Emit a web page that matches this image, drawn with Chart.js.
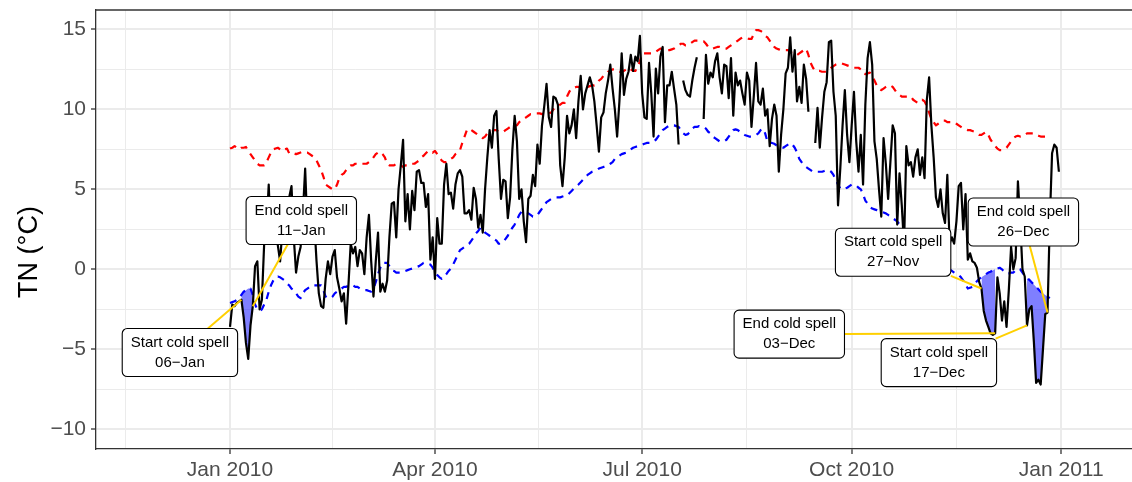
<!DOCTYPE html>
<html>
<head>
<meta charset="utf-8">
<script src="https://cdn.jsdelivr.net/npm/chart.js@4.4.1/dist/chart.umd.min.js"></script>
<style>
  html, body { margin: 0; padding: 0; background: #fff; }
  #chart { display: block; }
</style>
</head>
<body>
<canvas id="chart" width="1132" height="482"></canvas>
<script>
// daily minimum temperature 2010, index 0 = 1 Jan (null = missing)
const tn = [
  -3.6, -2.2, -2.3, -2.1, -2.0, -1.9, -3.0, -4.6, -5.6, -3.5,
  -2.3, 0.2, 0.5, -2.5, -1.9, 1.6, 2.5, 5.3, 1.6, 3.5,
  2.5, 1.5, 0.5, 2.5, 4.0, 3.0, 4.5, 5.2, 2.0, -0.2,
  0.8, 1.4, 3.5, 6.3, 2.5, 3.5, 2.0, 3.0, 0.5, -1.5,
  -2.3, -2.4, -0.6, 0.5, -0.3, 0.8, 1.2, -0.5, -1.2, -2.0,
  -1.5, -3.4, -1.0, 1.6, 1.0, 1.4, 0.2, 1.2, 1.0, -0.3,
  2.0, 3.4, 0.5, -1.7, 0.5, 2.3, -1.4, -0.9, -1.4, -0.7,
  2.0, 4.1, 4.2, 2.0, 5.0, 6.5, 8.1, 3.0, 4.7, 2.5,
  4.9, 3.7, 6.1, 6.2, 5.4, 5.4, 3.9, 4.7, 0.6, 2.0,
  -0.6, 3.2, 1.6, 1.6, 5.3, 6.6, 4.7, 4.8, 3.8, 5.3,
  6.0, 6.2, 5.8, 3.5, 3.5, 3.7, 3.1, 5.1, 4.4, 2.6,
  3.4, 2.3, 5.0, 7.0, 8.7, 7.6, 9.6, 9.9, 6.9, 4.4,
  5.6, 5.5, 3.2, 4.5, 7.5, 9.6, 8.0, 4.4, 5.0, 3.0,
  1.7, 4.4, 4.6, 5.9, 5.2, 7.8, 6.6, 9.0, 10.2, 11.6,
  9.5, 8.9, 10.8, 10.7, 10.3, 6.5, 5.2, 7.0, 9.6, 8.5,
  9.0, 10.0, 8.2, 10.5, 12.1, 10.0, 11.0, 11.5, 12.0, 11.5,
  10.5, 9.0, 7.35, 9.5, 9.8, 11.0, 11.8, 12.8, 11.3, 10.0,
  8.3, 10.5, 13.5, 10.9, 11.9, 12.35, 13.4, 12.4, 13.3, 13.0,
  14.6, 11.0, 9.5, 9.4, 12.9, 11.0, 8.3, 12.55, 11.0, 13.3,
  13.9, 9.2, 11.5, 11.5, 12.35, 11.3, 10.3, 7.8, null, 11.8,
  11.2, 10.9, 10.8, 11.8, 12.6, 13.25, null, null, 9.4, 13.4,
  11.6, 12.3, 12.0, 13.0, 13.5, 12.0, 11.0, 12.8, 12.7, 10.7,
  13.2, 9.6, 12.3, 11.5, 11.8, 11.0, 10.3, 12.3, 11.8, 8.9,
  10.8, 12.9, 10.5, 10.3, 11.3, 9.6, 10.0, 7.7, 9.4, 10.3,
  9.6, 6.1, 8.4, 10.0, 12.25, 12.6, 14.5, 12.35, 13.7, 10.5,
  11.4, 10.4, 12.8, 11.9, 9.85, null, null, 7.9, 10.1, 7.6,
  9.5, 11.1, 11.7, 14.2, 14.3, 11.1, 9.6, 4.0, 6.3, 9.0,
  11.2, 8.4, 6.7, 9.0, 11.1, 8.0, 6.1, 8.4, 5.3, 10.3,
  13.2, 14.2, 12.8, 8.0, 6.9, 5.0, 3.3, 8.2, 6.6, 4.4,
  6.7, 9.0, 8.5, 2.8, 6.0, 4.0, 1.5, 7.7, 6.5, 6.7,
  5.8, 7.0, 7.5, 5.9, 7.0, 5.7, 10.6, 12.0, 9.0, 7.0,
  4.5, 3.9, 5.0, 3.5, 2.9, 5.9, 1.6, 2.0, 1.6, 3.0,
  5.2, 5.4, 2.5, 4.7, 0.6, 1.0, 0.5, 0.4, 0.1, -0.8,
  -1.2, -2.6, -3.2, -3.6, -4.0, -4.1, -4.0, -0.5, -1.5, -3.2,
  -2.0, -3.6, -1.3, 1.4, 0.0, 0.7, 5.5, 3.0, 0.0, -0.45,
  -3.5, -2.5, -2.3, -4.5, -7.1, -6.9, -7.2, -5.0, -2.8, -2.7,
  3.0, 7.25, 7.8, 7.6, 6.1
];

// lower threshold (blue dashed)
const tnLow = [
  -2.1, -2.05, -2.0, -1.9, -1.8, -1.6, -1.4, -1.3, -1.2, -1.2,
  -1.6, -2.2, -2.5, -2.6, -2.5, -2.2, -1.9, -1.4, -1.0, -0.7,
  -0.5, -0.45, -0.5, -0.6, -0.7, -0.9, -1.0, -1.2, -1.3, -1.5,
  -1.7, -1.8, -1.5, -1.3, -1.2, -1.1, -1.1, -1.0, -1.0, -1.0,
  -1.0, -1.3, -1.7, -1.8, -1.8, -1.7, -1.5, -1.4, -1.3, -1.2,
  -1.1, -1.1, -1.0, -1.0, -1.0, -1.1, -1.1, -1.2, -1.25, -1.3,
  -1.3, -1.35, -1.4, -1.2, -0.8, -0.3, 0.1, 0.4, 0.4, 0.4,
  0.2, -0.05, -0.1, -0.2, -0.2, -0.2, -0.15, -0.1, -0.05, 0.0,
  0.05, 0.1, 0.15, 0.2, 0.3, 0.4, 0.4, 0.35, 0.3, 0.1,
  -0.2, -0.35, -0.5, -0.6, -0.5, -0.3, -0.1, 0.05, 0.3, 0.6,
  0.9, 1.2, 1.3, 1.4, 1.5, 1.6, 1.8, 2.0, 2.25, 2.4,
  2.6, 2.5, 2.3, 2.2, 2.1, 2.0, 1.9, 1.8, 1.6, 1.6,
  1.7, 1.9, 2.1, 2.4, 2.6, 2.8, 3.1, 3.4, 3.6, 3.6,
  3.55, 3.5, 3.4, 3.3, 3.3, 3.4, 3.6, 3.8, 4.0, 4.2,
  4.3, 4.4, 4.45, 4.5, 4.5, 4.5, 4.55, 4.6, 4.6, 4.75,
  4.9, 5.05, 5.2, 5.3, 5.45, 5.6, 5.75, 5.9, 6.0, 6.1,
  6.15, 6.2, 6.3, 6.35, 6.4, 6.45, 6.5, 6.6, 6.7, 6.9,
  7.0, 7.1, 7.2, 7.25, 7.3, 7.4, 7.5, 7.6, 7.65, 7.7,
  7.75, 7.8, 7.85, 7.9, 7.9, 7.9, 8.0, 8.1, 8.3, 8.5,
  8.7, 8.8, 8.9, 9.0, 9.0, 9.0, 8.95, 8.9, 8.7, 8.5,
  8.4, 8.45, 8.6, 8.8, 8.9, 8.9, 8.95, 8.9, 8.9, 8.8,
  8.6, 8.5, 8.3, 8.2, 8.1, 8.0, 8.0, 8.0, 8.1, 8.3,
  8.5, 8.7, 8.75, 8.7, 8.6, 8.5, 8.4, 8.35, 8.3, 8.3,
  8.35, 8.4, 8.5, 8.7, 8.8, 8.5, 8.0, 7.9, 7.9, 7.85,
  7.75, 7.7, 7.65, 7.6, 7.7, 7.8, 7.9, 7.8, 7.6, 7.3,
  6.9, 6.7, 6.5, 6.4, 6.3, 6.2, 6.1, 6.1, 6.1, 6.1,
  6.1, 6.15, 6.2, 6.2, 6.1, 5.9, 5.6, 5.3, 5.05, 5.0,
  5.05, 5.1, 5.2, 5.3, 5.3, 5.25, 5.1, 5.0, 4.7, 4.3,
  4.1, 3.9, 3.8, 3.75, 3.7, 3.65, 3.6, 3.55, 3.5, 3.4,
  3.3, 3.2, 3.1, 3.0, 2.8, 2.4, 2.1, 1.8, 1.6, 1.5,
  1.45, 1.4, 1.4, 1.35, 1.3, 1.3, 1.2, 1.1, 1.0, 0.8,
  0.7, 0.6, 0.45, 0.3, 0.2, 0.1, 0.0, -0.1, -0.2, -0.3,
  -0.35, -0.5, -0.7, -0.95, -1.2, -1.15, -1.1, -0.9, -0.75, -0.6,
  -0.5, -0.4, -0.3, -0.2, -0.15, -0.05, 0.0, 0.05, 0.1, 0.0,
  -0.15, -0.25, -0.25, -0.2, -0.2, -0.05, 0.05, 0.0, -0.2, -0.4,
  -0.55, -0.65, -0.8, -0.95, -1.1, -1.25, -1.4, -1.5, -1.6, -1.7,
  -1.8
];

// upper threshold (red dashed)
const tnHigh = [
  7.55, 7.6, 7.7, 7.6, 7.5, 7.6, 7.6, 7.65, 7.4, 7.2,
  7.0, 6.8, 6.6, 6.5, 6.5, 6.5, 6.7, 7.0, 7.3, 7.5,
  7.55, 7.6, 7.5, 7.4, 7.5, 7.55, 7.25, 7.2, 7.25, 7.2,
  7.25, 7.3, 7.35, 7.3, 7.3, 7.2, 7.1, 7.0, 6.8, 6.5,
  6.2, 5.8, 5.3, 5.2, 5.1, 5.0, 5.0, 5.3, 5.7, 5.9,
  6.0, 6.2, 6.4, 6.5, 6.5, 6.6, 6.6, 6.55, 6.6, 6.6,
  6.6, 6.7, 6.8, 7.0, 7.2, 7.3, 7.35, 7.2, 7.0, 6.6,
  6.5, 6.5, 6.5, 6.6, 6.5, 6.5, 6.4, 6.5, 6.5, 6.6,
  6.6, 6.6, 6.7, 6.8, 7.0, 7.1, 7.25, 7.4, 7.4, 7.3,
  7.4, 7.2, 7.0, 6.8, 6.7, 6.7, 6.75, 6.9, 7.0, 7.2,
  7.3, 7.45, 7.9, 8.3, 8.7, 8.8, 8.7, 8.6, 8.5, 8.4,
  8.3, 8.2, 8.3, 8.5, 8.6, 8.6, 8.7, 8.7, 8.6, 8.6,
  8.6, 8.7, 8.8, 8.9, 8.9, 9.0, 9.0, 9.2, 9.3, 9.4,
  9.5, 9.6, 9.7, 9.7, 9.75, 9.75, 9.75, 9.7, 9.75, 9.8,
  9.75, 9.8, 10.0, 10.1, 10.2, 10.3, 10.4, 10.4, 10.8, 11.1,
  11.3, 11.35, 11.4, 11.4, 11.35, 11.35, 11.4, 11.4, 11.45, 11.5,
  11.5, 11.6, 11.8, 11.9, 12.1, 12.2, 12.35, 12.4, 12.5, 12.5,
  12.4, 12.35, 12.35, 12.4, 12.5, 12.6, 12.5, 12.4, 12.4, 12.7,
  13.0, 13.5, 13.5, 13.5, 13.5, 13.5, 13.6, 13.6, 13.7, 13.8,
  13.8, 13.75, 13.7, 13.7, 13.75, 13.8, 13.9, 14.0, 14.1, 14.1,
  14.0, 14.0, 14.1, 14.2, 14.3, 14.3, 14.3, 14.25, 14.25, 14.1,
  13.9, 13.8, 13.8, 13.85, 13.9, 13.9, 13.85, 13.8, 13.8, 13.9,
  14.0, 14.1, 14.2, 14.3, 14.4, 14.5, 14.5, 14.45, 14.4, 14.4,
  14.7, 14.95, 14.95, 14.9, 14.8, 14.6, 14.5, 14.3, 14.1, 13.9,
  13.8, 13.75, 13.7, 13.7, 13.7, 13.7, 13.6, 13.5, 13.4, 13.4,
  13.5, 13.6, 13.7, 13.8, 13.4, 12.9, 12.6, 12.4, 12.4, 12.4,
  12.35, 12.35, 12.35, 12.5, 12.6, 12.7, 12.8, 12.85, 12.9, 12.85,
  12.8, 12.75, 12.7, 12.65, 12.6, 12.6, 12.6, 12.5, 12.25, 12.2,
  12.25, 12.3, 12.1, 11.8, 11.5, 11.3, 11.2, 11.3, 11.4, 11.5,
  11.5, 11.4, 11.2, 11.0, 10.9, 10.8, 10.8, 10.8, 10.8, 10.8,
  10.6, 10.5, 10.4, 10.5, 10.6, 10.5, 10.2, 9.8, 9.4, 9.2,
  9.0, 9.1, 9.2, 9.3, 9.3, 9.2, 9.2, 9.2, 9.2, 9.1,
  9.0, 8.9, 8.8, 8.75, 8.7, 8.7, 8.65, 8.6, 8.5, 8.4,
  8.4, 8.5, 8.6, 8.4, 8.1, 7.9, 7.7, 7.55, 7.45, 7.45,
  7.5, 7.6, 7.8, 8.0, 8.2, 8.3, 8.35, 8.3, 8.3, 8.4,
  8.5, 8.5, 8.5, 8.5, 8.4, 8.35, 8.3, 8.3, 8.3, 8.25,
  8.2
];

// cold spells, [first day, last day]
const coldSpells = [[5, 10], [330, 336], [350, 359]];

const xTickDays = [0, 90, 181, 273, 365];
const xTickLabels = ['Jan 2010', 'Apr 2010', 'Jul 2010', 'Oct 2010', 'Jan 2011'];
const xMinorDays = [-46, 45, 135.5, 227, 319];
const yTicks = [-10, -5, 0, 5, 10, 15];
const yMinor = [-7.5, -2.5, 2.5, 7.5, 12.5];
const yTitle = 'TN (°C)';

// where the repelled label boxes sit (day, value), start/end for each spell
const labelSpots = [[-22, -5.2], [31.3, 3.05], [291.2, 1.07], [245.6, -4.05], [311.3, -5.83], [348.4, 2.96]];

const FONT = '"Liberation Sans", Arial, Helvetica, sans-serif';
const months = ['Jan', 'Feb', 'Mar', 'Apr', 'May', 'Jun', 'Jul', 'Aug', 'Sep', 'Oct', 'Nov', 'Dec'];

function dayText(d) {
  const dt = new Date(Date.UTC(2010, 0, 1 + d));
  return String(dt.getUTCDate()).padStart(2, '0') + '\u2212' + months[dt.getUTCMonth()];
}

const inSpell = i => coldSpells.some(([a, b]) => i >= a && i <= b);
const pts = arr => arr.map((v, i) => ({ x: i, y: v }));

const spellLabels = [];
coldSpells.forEach(([a, b]) => {
  spellLabels.push({ lines: ['Start cold spell', dayText(a)], day: a });
  spellLabels.push({ lines: ['End cold spell', dayText(b)], day: b });
});

// ggrepel-like boxes with a segment to the marked day
const labelPlugin = {
  id: 'spellLabels',
  afterDatasetsDraw(chart) {
    const { ctx, scales: { x, y } } = chart;
    ctx.save();
    ctx.font = '15px ' + FONT;
    const boxes = spellLabels.map((l, i) => {
      const w = Math.max(...l.lines.map(s => ctx.measureText(s).width)) + 17;
      const h = 48;
      const cx = x.getPixelForValue(labelSpots[i][0]);
      const cy = y.getPixelForValue(labelSpots[i][1]);
      const px = x.getPixelForValue(l.day);
      const py = y.getPixelForValue(tn[l.day]);
      return { l, w, h, cx, cy, px, py };
    });

    ctx.strokeStyle = '#FFD000';
    ctx.lineWidth = 2;
    boxes.forEach(b => {
      const dx = b.px - b.cx, dy = b.py - b.cy;
      const t = Math.min(dx ? (b.w / 2) / Math.abs(dx) : Infinity, dy ? (b.h / 2) / Math.abs(dy) : Infinity);
      if (t >= 1) return;
      ctx.beginPath();
      ctx.moveTo(b.cx + dx * t, b.cy + dy * t);
      ctx.lineTo(b.px, b.py);
      ctx.stroke();
    });

    boxes.forEach(b => {
      ctx.beginPath();
      ctx.roundRect(b.cx - b.w / 2, b.cy - b.h / 2, b.w, b.h, 5);
      ctx.fillStyle = '#fff';
      ctx.fill();
      ctx.strokeStyle = '#000';
      ctx.lineWidth = 1.1;
      ctx.stroke();
      ctx.fillStyle = '#000';
      ctx.textAlign = 'center';
      ctx.textBaseline = 'middle';
      ctx.fillText(b.l.lines[0], b.cx, b.cy - 10);
      ctx.fillText(b.l.lines[1], b.cx, b.cy + 10);
    });
    ctx.restore();
  }
};

// top edge of the panel border and the y axis title
const frame = {
  id: 'frame',
  afterDraw(chart) {
    const { ctx, chartArea: a } = chart;
    ctx.save();
    ctx.strokeStyle = '#333';
    ctx.lineWidth = 1.3;
    ctx.beginPath();
    ctx.moveTo(a.left, a.top);
    ctx.lineTo(a.right, a.top);
    ctx.stroke();

    ctx.translate(30, 252);
    ctx.rotate(-Math.PI / 2);
    ctx.font = '27px ' + FONT;
    ctx.fillStyle = '#000';
    ctx.textAlign = 'center';
    ctx.textBaseline = 'middle';
    ctx.fillText(yTitle, 0, 0);
    ctx.restore();
  }
};

const isMajor = (list, c) => c.tick && list.includes(c.tick.value);

new Chart(document.getElementById('chart'), {
  type: 'line',
  data: {
    datasets: [
      { data: pts(tn), borderColor: '#000', borderWidth: 2.2 },
      { data: pts(tnLow), borderColor: '#0000FF', borderWidth: 2.2, borderDash: [7, 6] },
      { data: pts(tnHigh), borderColor: '#FF0000', borderWidth: 2.2, borderDash: [7, 6] },
      {
        data: tnLow.map((v, i) => ({ x: i, y: inSpell(i) ? v : null })),
        borderColor: 'rgba(0,0,0,0)', borderWidth: 1,
        backgroundColor: 'rgba(0,0,255,0.5)', fill: '+1'
      },
      {
        data: tn.map((v, i) => ({ x: i, y: inSpell(i) ? v : null })),
        borderColor: 'rgba(0,0,0,0)', borderWidth: 1, fill: false
      }
    ]
  },
  options: {
    animation: false,
    responsive: false,
    devicePixelRatio: 1,
    layout: { padding: { top: 10, right: 0, bottom: 0, left: 0 } },
    elements: {
      point: { radius: 0, hoverRadius: 0 },
      line: { tension: 0, borderJoinStyle: 'round' }
    },
    plugins: { legend: { display: false }, tooltip: { enabled: false } },
    scales: {
      x: {
        type: 'linear',
        min: -58.85,
        max: 396.1,
        afterBuildTicks: s => {
          s.ticks = [...xMinorDays, ...xTickDays].sort((a, b) => a - b).map(v => ({ value: v }));
        },
        afterFit: s => { s.height = 33; s.paddingLeft = 0; s.paddingRight = 0; },
        ticks: {
          autoSkip: false, maxRotation: 0, padding: 4,
          color: '#4D4D4D', font: { family: FONT, size: 21 },
          callback: v => { const i = xTickDays.indexOf(v); return i >= 0 ? xTickLabels[i] : ''; }
        },
        grid: {
          color: '#EBEBEB',
          lineWidth: c => isMajor(xTickDays, c) ? 2 : 1,
          tickColor: c => isMajor(xTickDays, c) ? '#333' : 'rgba(0,0,0,0)',
          tickLength: 5, tickWidth: 1.3
        },
        border: { color: '#333', width: 1.3 }
      },
      y: {
        min: -11.23,
        max: 16.21,
        afterBuildTicks: s => {
          s.ticks = [...yMinor, ...yTicks].sort((a, b) => a - b).map(v => ({ value: v }));
        },
        afterFit: s => { s.width = 96; s.paddingTop = 0; s.paddingBottom = 0; },
        ticks: {
          padding: 5, color: '#4D4D4D', font: { family: FONT, size: 21 },
          callback: v => yTicks.includes(v) ? String(v).replace('-', '\u2212') : ''
        },
        grid: {
          color: '#EBEBEB',
          lineWidth: c => isMajor(yTicks, c) ? 2 : 1,
          tickColor: c => isMajor(yTicks, c) ? '#333' : 'rgba(0,0,0,0)',
          tickLength: 5, tickWidth: 1.3
        },
        border: { color: '#333', width: 1.3 }
      }
    }
  },
  plugins: [frame, labelPlugin]
});
</script>
</body>
</html>
